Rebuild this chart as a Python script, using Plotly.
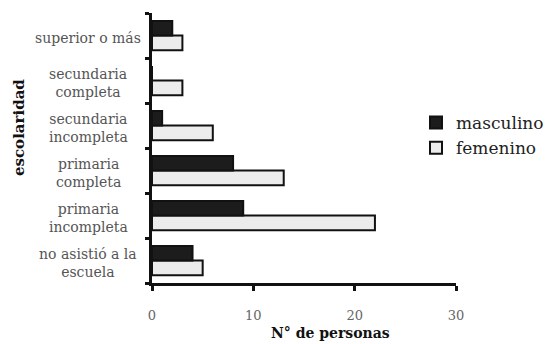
import plotly.graph_objects as go

categories = ["no asistió a la<br>escuela", "primaria<br>incompleta", "primaria<br>completa",
              "secundaria<br>incompleta", "secundaria<br>completa", "superior o más"]
masculino = [4, 9, 8, 1, 0, 2]
femenino = [5, 22, 13, 6, 3, 3]
x_ticks = [0, 10, 20, 30]

W, H = 558, 344
OFF = 8  # page body margin
L, T = 152 - OFF, 13 - OFF
pw, ph = 304, 270
R, B = W - L - pw, H - T - ph

def px(xp):
    return (xp - OFF - L) / pw

def py(yp):
    return (T + ph - (yp - OFF)) / ph

serif = "DejaVu Serif"

fig = go.Figure()
fig.add_trace(go.Bar(y=list(range(len(categories))), x=femenino, orientation="h", name="femenino",
                     marker=dict(color="#ececec", line=dict(color="#111111", width=2)),
                     legendrank=2))
fig.add_trace(go.Bar(y=list(range(len(categories))), x=masculino, orientation="h", name="masculino",
                     marker=dict(color="#1c1c1c", line=dict(color="#111111", width=2)),
                     legendrank=1))

annotations = []
for i, c in enumerate(categories):
    annotations.append(dict(text=c, x=px(88), xref="paper", y=i, yref="y", yshift=-2,
                            xanchor="center", yanchor="middle", align="center", showarrow=False,
                            font=dict(family=serif, size=14, color="#555555")))
annotations.append(dict(text="<b>N° de personas</b>", x=px(330), y=py(333), xref="paper", yref="paper",
                        showarrow=False, xanchor="center", yanchor="middle",
                        font=dict(family=serif, size=14, color="#111111")))
annotations.append(dict(text="<b>escolaridad</b>", x=px(19), y=py(128), xref="paper", yref="paper",
                        showarrow=False, textangle=-90, xanchor="center", yanchor="middle",
                        font=dict(family=serif, size=15, color="#111111")))

fig.update_layout(
    width=W, height=H,
    margin=dict(l=L, r=R, t=T, b=B, autoexpand=False),
    paper_bgcolor="white", plot_bgcolor="white",
    barmode="group", bargap=0.35, bargroupgap=0,
    showlegend=True,
    legend=dict(x=px(416), y=py(105), xanchor="left", yanchor="top",
                font=dict(family=serif, size=17, color="#222222"),
                bgcolor="rgba(0,0,0,0)", itemwidth=30, tracegroupgap=0),
    annotations=annotations,
    font=dict(family=serif),
)
fig.update_xaxes(range=[0, 30], tickvals=x_ticks, ticktext=[str(v) for v in x_ticks],
                 showline=True, linecolor="#111111", linewidth=2.5,
                 ticks="outside", ticklen=5, tickwidth=2.5, tickcolor="#111111",
                 ticklabelstandoff=14,
                 tickfont=dict(family=serif, size=13, color="#666666"),
                 showgrid=False, zeroline=False)
fig.update_yaxes(range=[-0.5, 5.5], tickvals=[i - 0.5 for i in range(len(categories) + 1)],
                 showticklabels=False,
                 showline=True, linecolor="#111111", linewidth=2.5,
                 ticks="outside", ticklen=4, tickwidth=2.5, tickcolor="#111111",
                 showgrid=False, zeroline=False)

fig.write_html("out.html")
